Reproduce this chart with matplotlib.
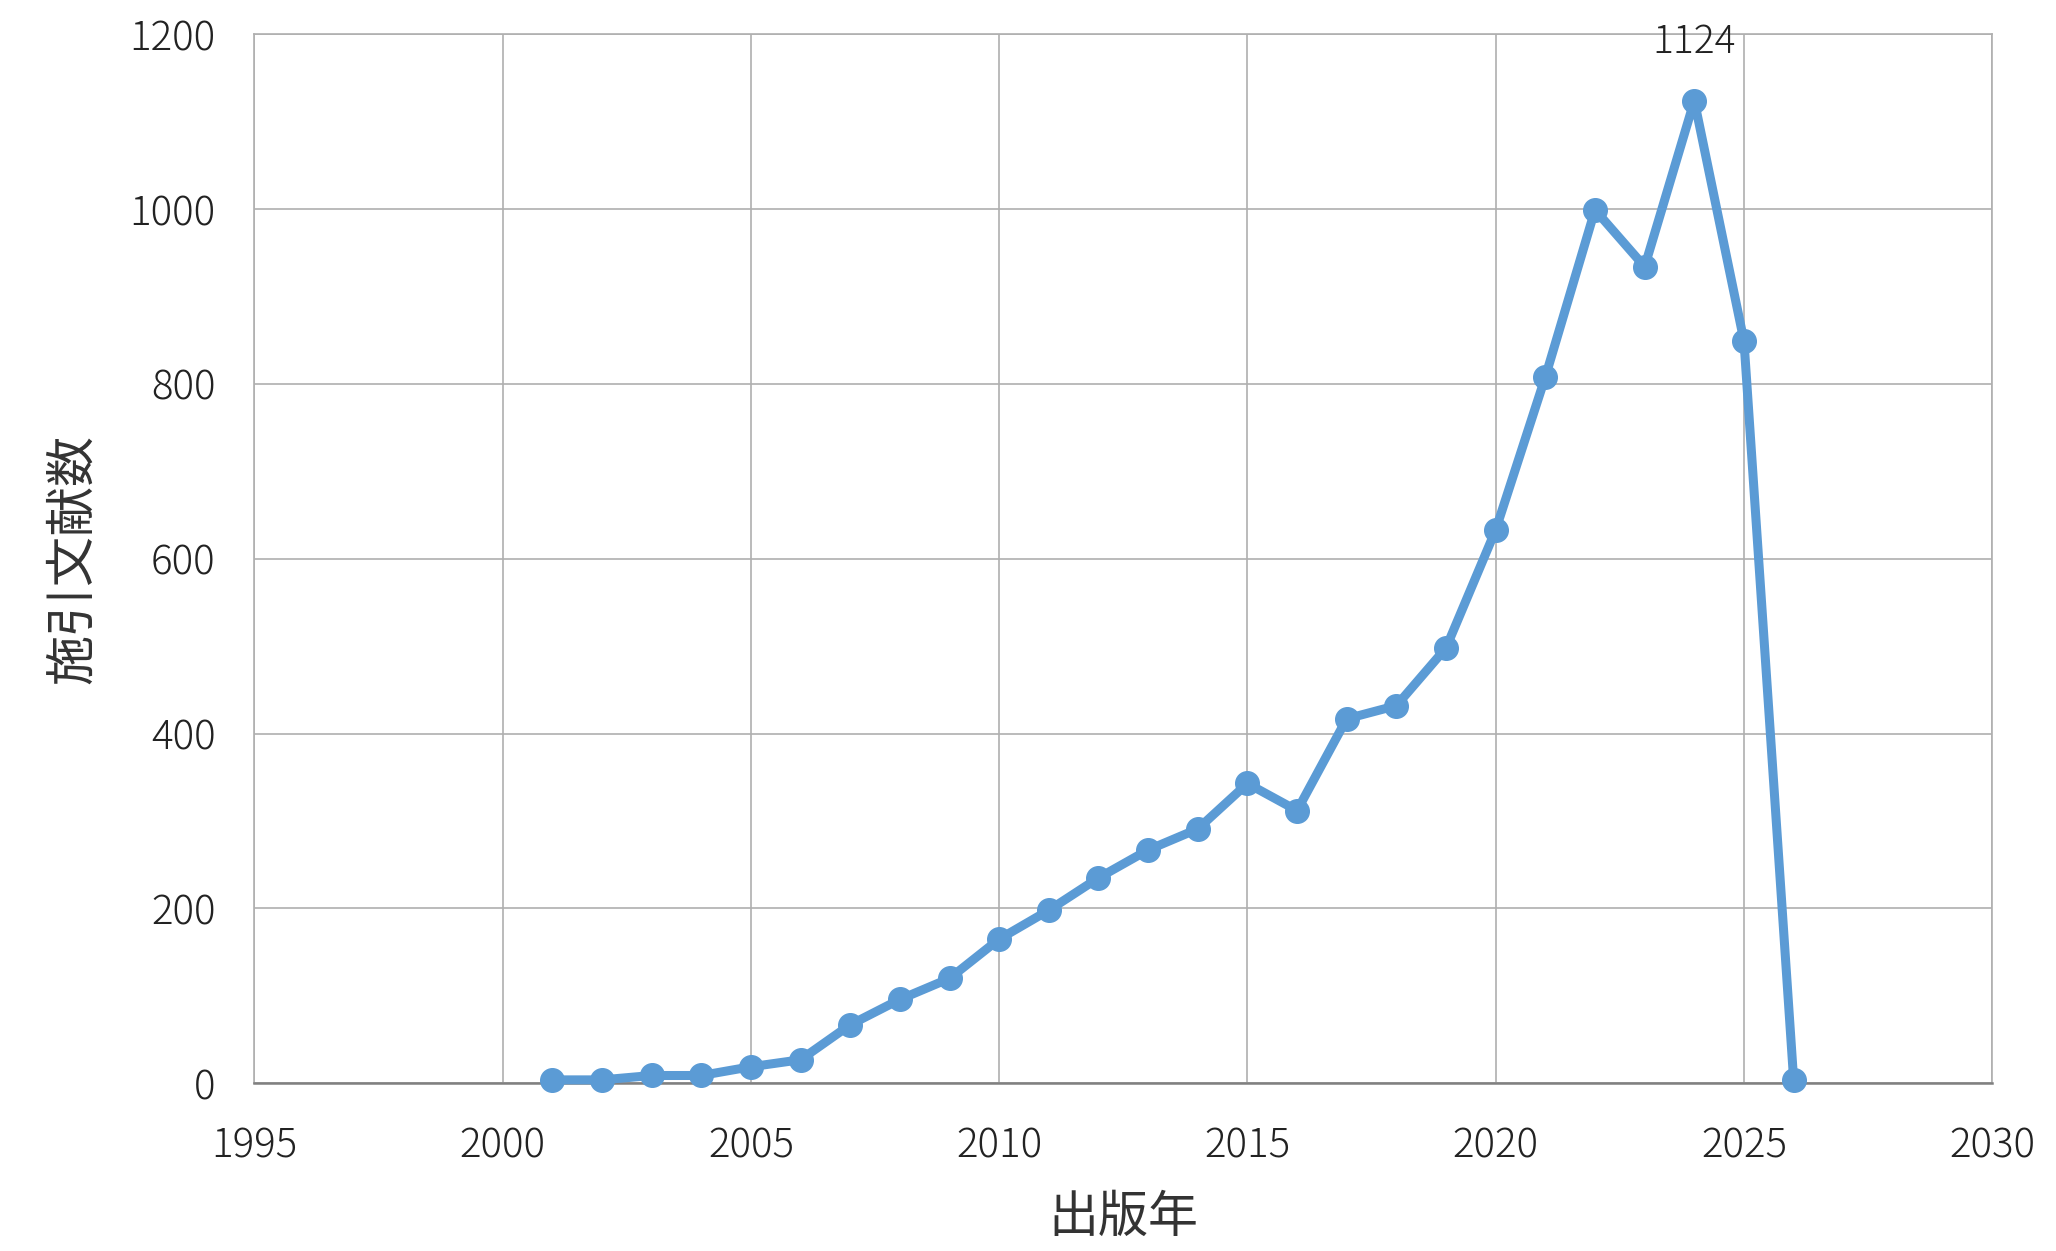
import numpy as np
import matplotlib.pyplot as plt

plt.rcParams['font.family'] = ['Noto Sans CJK JP', 'DejaVu Sans']

# publication year vs number of citing documents
years = [2001, 2002, 2003, 2004, 2005, 2006, 2007, 2008, 2009, 2010,
         2011, 2012, 2013, 2014, 2015, 2016, 2017, 2018, 2019, 2020,
         2021, 2022, 2023, 2024, 2025, 2026]
counts = [4, 4, 9, 9, 19, 27, 67, 96, 120, 165,
          198, 235, 267, 291, 343, 312, 417, 432, 498, 633,
          808, 999, 934, 1124, 849, 4]

xticks = [1995, 2000, 2005, 2010, 2015, 2020, 2025, 2030]
yticks = [0, 200, 400, 600, 800, 1000, 1200]
line_color = '#5B9BD5'

fig = plt.figure(figsize=(20.56, 12.51), dpi=100)
ax = fig.add_axes([0.1237, 0.134, 0.969 - 0.1237, 0.9727 - 0.134])

ax.plot(years, counts, color=line_color, lw=6.5, marker='o', ms=17,
        clip_on=False, zorder=3)

ax.set_xlim(1995, 2030)
ax.set_ylim(0, 1200)
ax.set_xticks(xticks)
ax.set_yticks(yticks)
ax.grid(True, color='#AFAFAF', lw=1.2)
ax.tick_params(length=0, labelsize=29, colors='#222222', pad=30)
ax.tick_params(axis='y', pad=28)
for lab in ax.get_xticklabels() + ax.get_yticklabels():
    lab.set_fontweight('light')
for s in ['top', 'right', 'left']:
    ax.spines[s].set_color('#AFAFAF')
    ax.spines[s].set_linewidth(1.2)
ax.spines['bottom'].set_color('#808080')
ax.spines['bottom'].set_linewidth(1.8)

# peak label
imax = int(np.argmax(counts))
ax.annotate(str(counts[imax]), (years[imax], counts[imax]),
            xytext=(0, 42), textcoords='offset points',
            ha='center', va='center', fontsize=28, fontweight='light',
            color='#222222')

ax.set_xlabel('出版年', fontsize=36, color='#333333', labelpad=18)
ax.set_ylabel('施引文献数', fontsize=36, color='#333333', labelpad=22)

fig.savefig('out.png', dpi=100)
